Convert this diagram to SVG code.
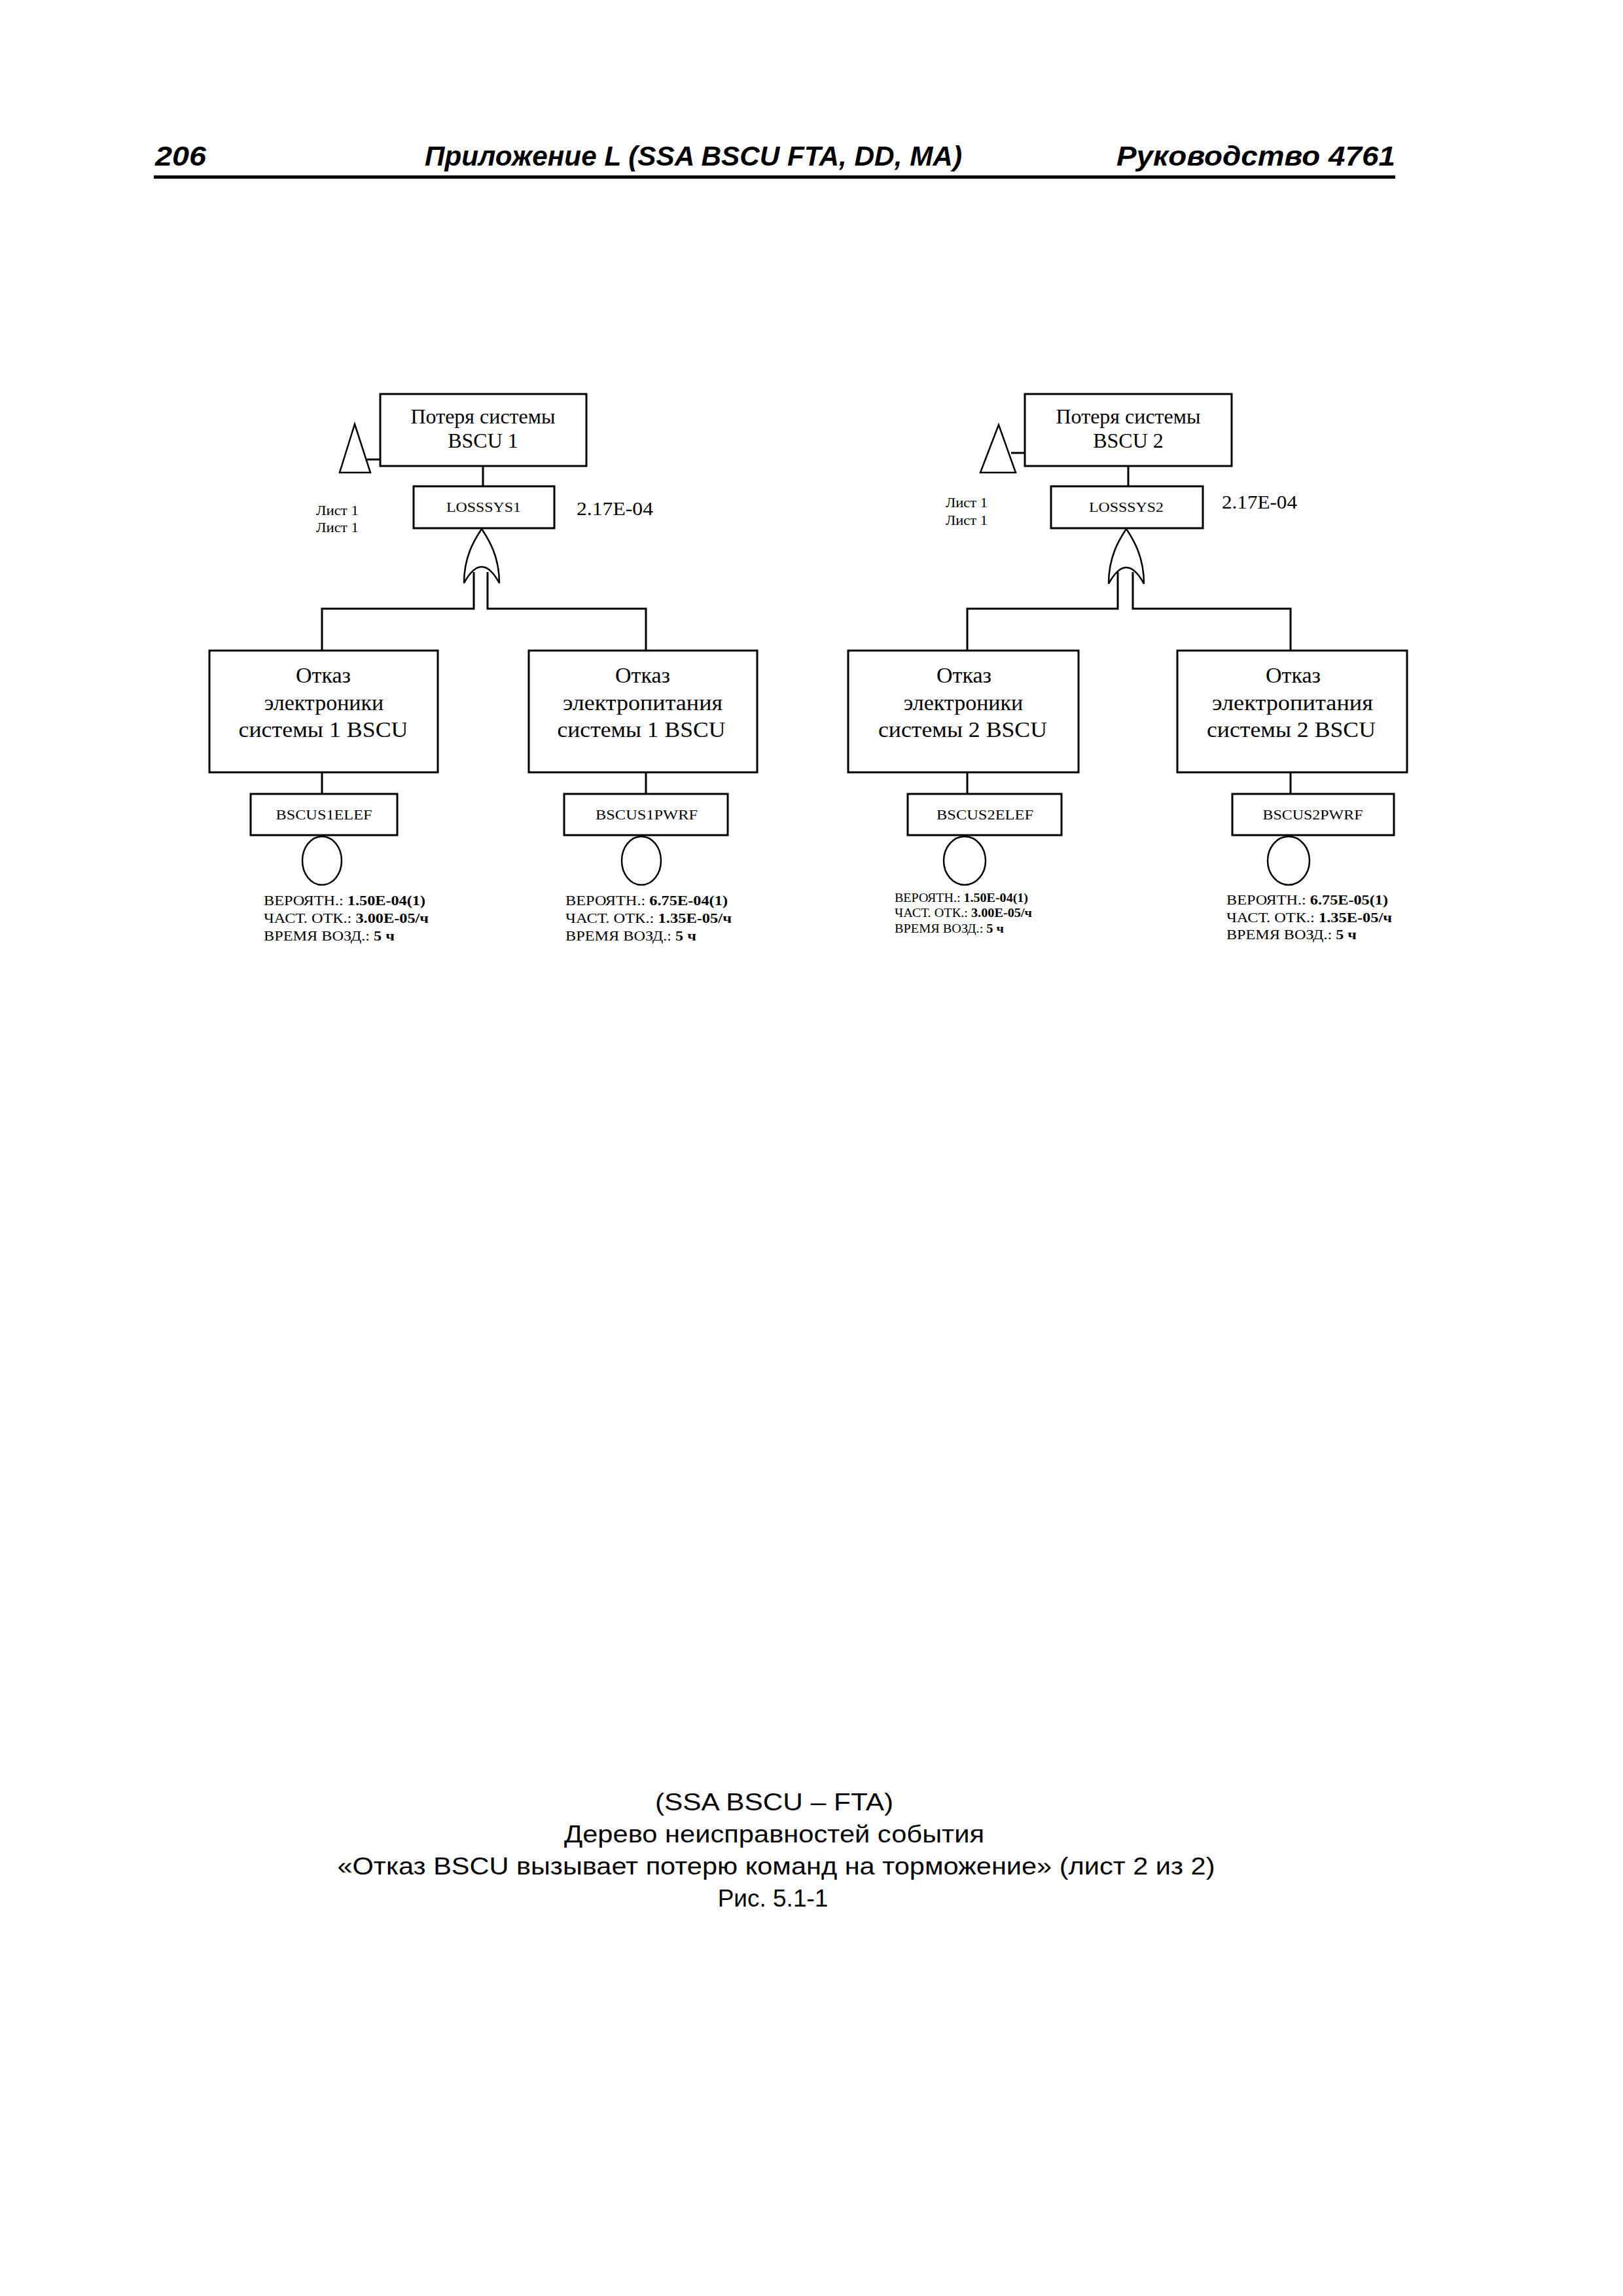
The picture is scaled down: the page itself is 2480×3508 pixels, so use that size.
<svg xmlns="http://www.w3.org/2000/svg" width="2480" height="3508" viewBox="0 0 2480 3508">
<style>
.bg{fill:#fff}
.box{fill:#fff;stroke:#000;stroke-width:3}
.ln{fill:none;stroke:#000;stroke-width:3}
.thin{fill:#fff;stroke:#000;stroke-width:2.5}
.hdr{font-family:"Liberation Sans",Arial,sans-serif;font-weight:bold;font-style:italic;font-size:43px;fill:#000}
.cap{font-family:"Liberation Sans",Arial,sans-serif;font-size:37px;fill:#000;text-anchor:middle}
.t32{font-family:"Liberation Serif","Times New Roman",serif;font-size:32px;fill:#000;text-anchor:middle}
.t35{font-family:"Liberation Serif","Times New Roman",serif;font-size:34px;fill:#000;text-anchor:middle}
.id{font-family:"Liberation Serif","Times New Roman",serif;font-size:20px;fill:#000;text-anchor:middle}
.prob{font-family:"Liberation Serif","Times New Roman",serif;font-size:29px;fill:#000}
.lst{font-family:"Liberation Serif","Times New Roman",serif;font-size:21px;fill:#000}
.ev{font-family:"Liberation Serif","Times New Roman",serif;font-size:22px;fill:#000}
.evs{font-family:"Liberation Serif","Times New Roman",serif;font-size:18px;fill:#000}
.b{font-weight:bold}
</style>
<defs>
<clipPath id="clipL1"><rect x="320" y="994" width="301" height="186"/></clipPath>
</defs>
<rect class="bg" x="0" y="0" width="2480" height="3508"/>

<g id="header">
<text class="hdr" x="237" y="253" textLength="78" lengthAdjust="spacingAndGlyphs">206</text>
<text class="hdr" x="649" y="253" textLength="821" lengthAdjust="spacingAndGlyphs">Приложение L (SSA BSCU FTA, DD, MA)</text>
<text class="hdr" x="1706" y="253" textLength="426" lengthAdjust="spacingAndGlyphs">Руководство 4761</text>
<rect x="235" y="268" width="1897" height="5" fill="#000"/>
</g>

<g id="connectors">
<!-- left tree -->
<line class="ln" x1="561" y1="702" x2="581" y2="702"/>
<line class="ln" x1="738" y1="712" x2="738" y2="743"/>
<polyline class="ln" points="724,874 724,930 492,930 492,994"/>
<polyline class="ln" points="745,874 745,930 987,930 987,994"/>
<line class="ln" x1="492" y1="1180" x2="492" y2="1213"/>
<line class="ln" x1="987" y1="1180" x2="987" y2="1213"/>
<!-- right tree -->
<line class="ln" x1="1545" y1="692" x2="1566" y2="692"/>
<line class="ln" x1="1724" y1="712" x2="1724" y2="743"/>
<polyline class="ln" points="1708,874 1708,930 1478,930 1478,994"/>
<polyline class="ln" points="1731,874 1731,930 1972,930 1972,994"/>
<line class="ln" x1="1478" y1="1180" x2="1478" y2="1213"/>
<line class="ln" x1="1972" y1="1180" x2="1972" y2="1213"/>
</g>

<!-- LEFT TREE -->
<g id="top1">
<rect class="box" x="581" y="602" width="315" height="110"/>
<text class="t32" x="738" y="647">Потеря системы</text>
<text class="t32" x="738" y="684">BSCU 1</text>
</g>
<g id="transfer1">
<polygon class="thin" points="542,648 519,722 566,722"/>
<text class="lst" x="483" y="787" textLength="65" lengthAdjust="spacingAndGlyphs">Лист 1</text>
<text class="lst" x="483" y="813" textLength="65" lengthAdjust="spacingAndGlyphs">Лист 1</text>
</g>
<g id="gate1">
<rect class="box" x="632" y="743" width="215" height="64"/>
<text class="id" x="739" y="782" textLength="114" lengthAdjust="spacingAndGlyphs">LOSSSYS1</text>
<text class="prob" x="881" y="787" textLength="117" lengthAdjust="spacingAndGlyphs">2.17E-04</text>
<path class="thin" d="M736 808 C727 822 709 848 709 891 Q736 841 763 891 C763 848 745 822 736 808 Z"/>
</g>
<g id="ele1">
<rect class="box" x="320" y="994" width="349" height="186"/>
<g clip-path="url(#clipL1)">
<text class="t35" x="494" y="1043">Отказ</text>
<text class="t35" x="495" y="1085">электроники</text>
<text class="t35" x="494" y="1126" textLength="259" lengthAdjust="spacingAndGlyphs">системы 1 BSCU</text>
</g>
</g>
<g id="pwr1">
<rect class="box" x="808" y="994" width="349" height="186"/>
<text class="t35" x="982" y="1043">Отказ</text>
<text class="t35" x="982" y="1085" textLength="244" lengthAdjust="spacingAndGlyphs">электропитания</text>
<text class="t35" x="980" y="1126" textLength="257" lengthAdjust="spacingAndGlyphs">системы 1 BSCU</text>
</g>
<g id="ev_BSCUS1ELEF">
<rect class="box" x="383" y="1213" width="224" height="63"/>
<text class="id" x="495" y="1252" textLength="147" lengthAdjust="spacingAndGlyphs">BSCUS1ELEF</text>
<ellipse class="thin" cx="492" cy="1315" rx="30" ry="37"/>
<text class="ev" x="403" y="1383" textLength="247" lengthAdjust="spacingAndGlyphs">ВЕРОЯТН.: <tspan class="b">1.50E-04(1)</tspan></text>
<text class="ev" x="403" y="1410" textLength="252" lengthAdjust="spacingAndGlyphs">ЧАСТ. ОТК.: <tspan class="b">3.00E-05/ч</tspan></text>
<text class="ev" x="403" y="1437" textLength="200" lengthAdjust="spacingAndGlyphs">ВРЕМЯ ВОЗД.: <tspan class="b">5 ч</tspan></text>
</g>
<g id="ev_BSCUS1PWRF">
<rect class="box" x="862" y="1213" width="250" height="63"/>
<text class="id" x="988" y="1252" textLength="156" lengthAdjust="spacingAndGlyphs">BSCUS1PWRF</text>
<ellipse class="thin" cx="980" cy="1315" rx="30" ry="37"/>
<text class="ev" x="864" y="1383" textLength="248" lengthAdjust="spacingAndGlyphs">ВЕРОЯТН.: <tspan class="b">6.75E-04(1)</tspan></text>
<text class="ev" x="864" y="1410" textLength="254" lengthAdjust="spacingAndGlyphs">ЧАСТ. ОТК.: <tspan class="b">1.35E-05/ч</tspan></text>
<text class="ev" x="864" y="1437" textLength="200" lengthAdjust="spacingAndGlyphs">ВРЕМЯ ВОЗД.: <tspan class="b">5 ч</tspan></text>
</g>

<!-- RIGHT TREE -->
<g id="top2">
<rect class="box" x="1566" y="602" width="316" height="110"/>
<text class="t32" x="1724" y="647">Потеря системы</text>
<text class="t32" x="1724" y="684">BSCU 2</text>
</g>
<g id="transfer2">
<polygon class="thin" points="1526,649 1498,722 1552,722"/>
<text class="lst" x="1445" y="775" textLength="64" lengthAdjust="spacingAndGlyphs">Лист 1</text>
<text class="lst" x="1445" y="802" textLength="64" lengthAdjust="spacingAndGlyphs">Лист 1</text>
</g>
<g id="gate2">
<rect class="box" x="1606" y="743" width="232" height="64"/>
<text class="id" x="1721" y="782" textLength="114" lengthAdjust="spacingAndGlyphs">LOSSSYS2</text>
<text class="prob" x="1867" y="777" textLength="115" lengthAdjust="spacingAndGlyphs">2.17E-04</text>
<path class="thin" d="M1721 808 C1712 822 1694 848 1694 892 Q1721 842 1748 892 C1748 848 1730 822 1721 808 Z"/>
</g>
<g id="ele2">
<rect class="box" x="1296" y="994" width="352" height="186"/>
<text class="t35" x="1473" y="1043">Отказ</text>
<text class="t35" x="1472" y="1085">электроники</text>
<text class="t35" x="1471" y="1126" textLength="258" lengthAdjust="spacingAndGlyphs">системы 2 BSCU</text>
</g>
<g id="pwr2">
<rect class="box" x="1799" y="994" width="351" height="186"/>
<text class="t35" x="1976" y="1043">Отказ</text>
<text class="t35" x="1975" y="1085" textLength="246" lengthAdjust="spacingAndGlyphs">электропитания</text>
<text class="t35" x="1973" y="1126" textLength="258" lengthAdjust="spacingAndGlyphs">системы 2 BSCU</text>
</g>
<g id="ev_BSCUS2ELEF">
<rect class="box" x="1387" y="1213" width="235" height="63"/>
<text class="id" x="1505" y="1252" textLength="148" lengthAdjust="spacingAndGlyphs">BSCUS2ELEF</text>
<ellipse class="thin" cx="1474" cy="1315" rx="32" ry="37"/>
<text class="evs" x="1367" y="1378" textLength="204" lengthAdjust="spacingAndGlyphs">ВЕРОЯТН.: <tspan class="b">1.50E-04(1)</tspan></text>
<text class="evs" x="1367" y="1401" textLength="210" lengthAdjust="spacingAndGlyphs">ЧАСТ. ОТК.: <tspan class="b">3.00E-05/ч</tspan></text>
<text class="evs" x="1367" y="1425" textLength="167" lengthAdjust="spacingAndGlyphs">ВРЕМЯ ВОЗД.: <tspan class="b">5 ч</tspan></text>
</g>
<g id="ev_BSCUS2PWRF">
<rect class="box" x="1883" y="1213" width="247" height="63"/>
<text class="id" x="2006" y="1252" textLength="153" lengthAdjust="spacingAndGlyphs">BSCUS2PWRF</text>
<ellipse class="thin" cx="1969" cy="1315" rx="32" ry="37"/>
<text class="ev" x="1874" y="1382" textLength="247" lengthAdjust="spacingAndGlyphs">ВЕРОЯТН.: <tspan class="b">6.75E-05(1)</tspan></text>
<text class="ev" x="1874" y="1409" textLength="253" lengthAdjust="spacingAndGlyphs">ЧАСТ. ОТК.: <tspan class="b">1.35E-05/ч</tspan></text>
<text class="ev" x="1874" y="1435" textLength="199" lengthAdjust="spacingAndGlyphs">ВРЕМЯ ВОЗД.: <tspan class="b">5 ч</tspan></text>
</g>

<g id="caption">
<text class="cap" x="1183" y="2766" textLength="364" lengthAdjust="spacingAndGlyphs">(SSA BSCU – FTA)</text>
<text class="cap" x="1183" y="2815" textLength="642" lengthAdjust="spacingAndGlyphs">Дерево неисправностей события</text>
<text class="cap" x="1186" y="2864" textLength="1341" lengthAdjust="spacingAndGlyphs">«Отказ BSCU вызывает потерю команд на торможение» (лист 2 из 2)</text>
<text class="cap" x="1181" y="2913">Рис. 5.1-1</text>
</g>
</svg>
